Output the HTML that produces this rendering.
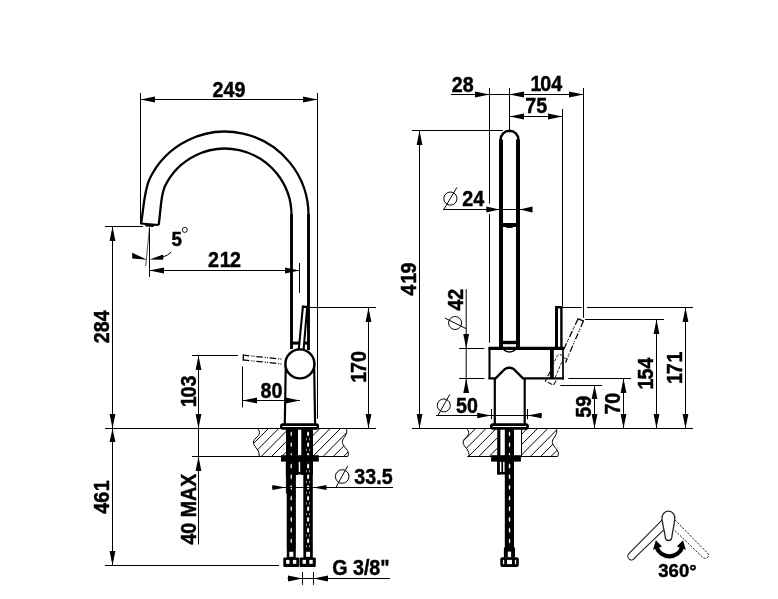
<!DOCTYPE html>
<html><head><meta charset="utf-8"><title>Technical drawing</title>
<style>html,body{margin:0;padding:0;background:#fff}svg{display:block;will-change:transform}text{font-family:"Liberation Sans",sans-serif;font-weight:bold;fill:#000;stroke:#000;stroke-width:0.45px}</style>
</head><body>
<svg width="778" height="599" viewBox="0 0 778 599">
<rect width="778" height="599" fill="#fff"/>
<line x1="140.5" y1="93" x2="140.5" y2="224.5" stroke="#000" stroke-width="1" />
<line x1="317.5" y1="93" x2="317.5" y2="418.7" stroke="#000" stroke-width="1" />
<line x1="140.5" y1="99.5" x2="317.5" y2="99.5" stroke="#000" stroke-width="1" />
<polygon points="140.50,99.50 155.00,96.60 155.00,102.40" fill="#000"/>
<polygon points="317.50,99.50 303.00,102.40 303.00,96.60" fill="#000"/>
<text transform="translate(212.6,96.7) scale(0.915,1)" font-size="21.5">249</text>
<path d="M141.10,223.50 C143.6,208.6 143.8,193.5 149.13,179.87 A83.6,83.6 0 0 1 308.5,215.2" fill="none" stroke="#000" stroke-width="2.3"/>
<path d="M158.60,225.10 C160.84,212.16 160.05,198.83 164.54,187.05 A66.6,66.6 0 0 1 291.5,215.2" fill="none" stroke="#000" stroke-width="2.3"/>
<line x1="141.10" y1="223.50" x2="158.60" y2="225.10" stroke="#000" stroke-width="2" />
<polygon points="143.2,223.6 155.4,224.7 153,227 146,226.6" fill="#000"/>
<line x1="291.5" y1="214.2" x2="291.5" y2="349" stroke="#000" stroke-width="2.9" />
<line x1="308.5" y1="214.2" x2="308.5" y2="350" stroke="#000" stroke-width="2.9" />
<line x1="105" y1="226.5" x2="143" y2="226.5" stroke="#000" stroke-width="1" />
<line x1="112.5" y1="226.5" x2="112.5" y2="565.5" stroke="#000" stroke-width="1" />
<polygon points="112.50,226.50 115.40,241.00 109.60,241.00" fill="#000"/>
<polygon points="112.50,428.50 109.60,414.00 115.40,414.00" fill="#000"/>
<polygon points="112.50,428.50 115.40,442.00 109.60,442.00" fill="#000"/>
<polygon points="112.50,565.50 109.60,551.00 115.40,551.00" fill="#000"/>
<line x1="105" y1="428.5" x2="376" y2="428.5" stroke="#000" stroke-width="1" />
<line x1="105" y1="565.5" x2="279" y2="565.5" stroke="#000" stroke-width="1" />
<text transform="translate(109.30000000000001,343.2) rotate(-90) scale(0.915,1)" font-size="21.5">284</text>
<text transform="translate(109.30000000000001,513.8) rotate(-90) scale(0.915,1)" font-size="21.5">46<tspan dx="0.8">1</tspan></text>
<line x1="149.5" y1="227.6" x2="149.5" y2="277" stroke="#000" stroke-width="1" />
<line x1="149.5" y1="227.6" x2="145.7" y2="266" stroke="#222" stroke-width="0.8" />
<polygon points="147.2,259.8 132.2,252.8 132.2,258.6" fill="#000"/>
<polygon points="149.6,259.6 163.2,254.4 163.2,259.8" fill="#000"/>
<path d="M163,257 Q168,255.5 171,252.2" fill="none" stroke="#000" stroke-width="1"/>
<text transform="translate(171.6,246.1) scale(0.915,1)" font-size="20.5">5</text>
<circle cx="184.8" cy="229.9" r="2.5" fill="none" stroke="#000" stroke-width="0.9"/>
<line x1="149.5" y1="270.5" x2="299.5" y2="270.5" stroke="#000" stroke-width="1" />
<polygon points="149.50,270.50 164.00,267.60 164.00,273.40" fill="#000"/>
<polygon points="299.50,270.50 285.00,273.40 285.00,267.60" fill="#000"/>
<line x1="299.5" y1="263" x2="299.5" y2="292.8" stroke="#000" stroke-width="1" />
<text transform="translate(208,266.59999999999997) scale(0.915,1)" font-size="21.5">2<tspan dx="0.8">1</tspan><tspan dx="-0.8">2</tspan></text>
<line x1="291.5" y1="343.1" x2="308.5" y2="343.1" stroke="#000" stroke-width="3" />
<path d="M298.7,350 L302.9,306.4 L307.2,307 L303.6,350" fill="#fff" stroke="#000" stroke-width="2.1" stroke-linejoin="miter"/>
<line x1="303" y1="307.5" x2="376" y2="307.5" stroke="#000" stroke-width="1" />
<line x1="368.5" y1="307.5" x2="368.5" y2="428.5" stroke="#000" stroke-width="1" />
<polygon points="368.50,307.50 371.40,322.00 365.60,322.00" fill="#000"/>
<polygon points="368.50,428.50 365.60,414.00 371.40,414.00" fill="#000"/>
<text transform="translate(366.09999999999997,382.8) rotate(-90) scale(0.915,1)" font-size="21.5">1<tspan dx="-1.2">7</tspan>0</text>
<path d="M285.8,363 L284.8,424" fill="none" stroke="#000" stroke-width="2.2"/>
<path d="M314.1,363 L315.1,424" fill="none" stroke="#000" stroke-width="2.2"/>
<circle cx="299.9" cy="363.9" r="14.5" fill="#fff" stroke="#000" stroke-width="2.4"/>
<path d="M242.9,355.1 L283,359.3" stroke="#000" stroke-width="1.25" fill="none" stroke-dasharray="6.5 2 1 1.2 1 1.8"/>
<path d="M242.9,359.9 L283,364.1" stroke="#000" stroke-width="1.25" fill="none" stroke-dasharray="6.5 2 1 1.2 1 1.8"/>
<path d="M243.3,354.5 L243.3,360.5" stroke="#000" stroke-width="1.4" fill="none"/>
<line x1="192" y1="355.5" x2="238" y2="355.5" stroke="#000" stroke-width="1" />
<line x1="198.5" y1="355.5" x2="198.5" y2="544.4" stroke="#000" stroke-width="1" />
<polygon points="198.50,355.50 201.40,370.00 195.60,370.00" fill="#000"/>
<polygon points="198.50,428.50 195.60,414.00 201.40,414.00" fill="#000"/>
<polygon points="198.50,456.50 201.40,471.00 195.60,471.00" fill="#000"/>
<text transform="translate(196.3,407.3) rotate(-90) scale(0.915,1)" font-size="21.5">1<tspan dx="-1.2">0</tspan>3</text>
<text transform="translate(196.3,544.6) rotate(-90) scale(0.915,1)" font-size="21.5">40 MAX</text>
<line x1="242.5" y1="366.4" x2="242.5" y2="407.4" stroke="#000" stroke-width="1" />
<line x1="242.5" y1="400.5" x2="300" y2="400.5" stroke="#000" stroke-width="1" />
<polygon points="242.50,400.50 257.00,397.60 257.00,403.40" fill="#000"/>
<polygon points="300.00,400.50 285.50,403.40 285.50,397.60" fill="#000"/>
<text transform="translate(260.5,397.5) scale(0.915,1)" font-size="21.5">80</text>
<clipPath id="c1"><path d="M257.4,428.5 C261,432 259.5,435 256,438 C251.5,442 253.5,445 257,449 C259,451.5 259.5,453.5 259,456.3 L286,456.5 L286,428.5 Z"/><path d="M345.9,428.5 C348,432 346,435 343.5,438.5 C341,442.5 343,445 346,448.5 C348.5,451.5 349,454 347.8,456.3 L313,456.5 L313,428.5 Z"/></clipPath>
<g clip-path="url(#c1)" stroke="#000" stroke-width="1">
<line x1="216.9" y1="428.5" x2="189.1" y2="456.5"/>
<line x1="227.2" y1="428.5" x2="199.4" y2="456.5"/>
<line x1="237.5" y1="428.5" x2="209.7" y2="456.5"/>
<line x1="247.8" y1="428.5" x2="220.0" y2="456.5"/>
<line x1="258.1" y1="428.5" x2="230.3" y2="456.5"/>
<line x1="268.4" y1="428.5" x2="240.6" y2="456.5"/>
<line x1="278.7" y1="428.5" x2="250.9" y2="456.5"/>
<line x1="289.0" y1="428.5" x2="261.2" y2="456.5"/>
<line x1="299.3" y1="428.5" x2="271.5" y2="456.5"/>
<line x1="309.6" y1="428.5" x2="281.8" y2="456.5"/>
<line x1="319.9" y1="428.5" x2="292.1" y2="456.5"/>
<line x1="330.2" y1="428.5" x2="302.4" y2="456.5"/>
<line x1="340.5" y1="428.5" x2="312.7" y2="456.5"/>
<line x1="350.8" y1="428.5" x2="323.0" y2="456.5"/>
<line x1="361.1" y1="428.5" x2="333.3" y2="456.5"/>
<line x1="371.4" y1="428.5" x2="343.6" y2="456.5"/>
<line x1="381.7" y1="428.5" x2="353.9" y2="456.5"/>
</g>
<path d="M257.4,428.5 C261,432 259.5,435 256,438 C251.5,442 253.5,445 257,449 C259,451.5 259.5,453.5 259,456.3" fill="none" stroke="#000" stroke-width="1"/>
<path d="M345.9,428.5 C348,432 346,435 343.5,438.5 C341,442.5 343,445 346,448.5 C348.5,451.5 349,454 347.8,456.3" fill="none" stroke="#000" stroke-width="1"/>
<line x1="192" y1="456.5" x2="347.8" y2="456.5" stroke="#000" stroke-width="1" />
<rect x="286" y="429" width="12.0" height="46" fill="#000"/>
<rect x="301.3" y="429" width="11.7" height="46" fill="#000"/>
<rect x="285.9" y="461" width="27.1" height="13.5" fill="#000"/>
<rect x="298.7" y="461.7" width="1.5" height="10.3" fill="#fff"/>
<rect x="286.7" y="474" width="9.2" height="74.5" fill="#000"/>
<rect x="303.3" y="474" width="9.5" height="74.5" fill="#000"/>
<line x1="286.4" y1="462.7" x2="286.4" y2="493.6" stroke="#000" stroke-width="1" />
<polygon points="291.2,431.2 291.84999999999997,432.7 291.84999999999997,435.1 291.2,436.6 290.55,435.1 290.55,432.7" fill="#fff"/>
<polygon points="291.2,441.9 291.84999999999997,443.4 291.84999999999997,445.8 291.2,447.3 290.55,445.8 290.55,443.4" fill="#fff"/>
<polygon points="291.2,452.6 291.84999999999997,454.1 291.84999999999997,456.5 291.2,458.0 290.55,456.5 290.55,454.1" fill="#fff"/>
<polygon points="291.2,463.3 291.84999999999997,464.8 291.84999999999997,467.2 291.2,468.7 290.55,467.2 290.55,464.8" fill="#fff"/>
<polygon points="291.2,474.0 291.84999999999997,475.5 291.84999999999997,477.9 291.2,479.4 290.55,477.9 290.55,475.5" fill="#fff"/>
<polygon points="291.2,484.7 291.84999999999997,486.2 291.84999999999997,488.6 291.2,490.1 290.55,488.6 290.55,486.2" fill="#fff"/>
<polygon points="291.2,495.4 291.84999999999997,496.9 291.84999999999997,499.3 291.2,500.8 290.55,499.3 290.55,496.9" fill="#fff"/>
<polygon points="291.2,506.1 291.84999999999997,507.6 291.84999999999997,510.0 291.2,511.5 290.55,510.0 290.55,507.6" fill="#fff"/>
<polygon points="291.2,516.8 291.84999999999997,518.3 291.84999999999997,520.7 291.2,522.2 290.55,520.7 290.55,518.3" fill="#fff"/>
<polygon points="291.2,527.5 291.84999999999997,529.0 291.84999999999997,531.4 291.2,532.9 290.55,531.4 290.55,529.0" fill="#fff"/>
<polygon points="291.2,538.2 291.84999999999997,539.7 291.84999999999997,542.1 291.2,543.6 290.55,542.1 290.55,539.7" fill="#fff"/>
<polygon points="308.1,431.2 309.1,432.7 309.1,435.1 308.1,436.6 307.1,435.1 307.1,432.7" fill="#fff"/>
<rect x="306.20000000000005" y="438.1" width="0.8" height="2.2" fill="#bbb"/>
<rect x="309.20000000000005" y="438.1" width="0.8" height="2.2" fill="#bbb"/>
<polygon points="308.1,441.9 309.1,443.4 309.1,445.8 308.1,447.3 307.1,445.8 307.1,443.4" fill="#fff"/>
<rect x="306.20000000000005" y="448.8" width="0.8" height="2.2" fill="#bbb"/>
<rect x="309.20000000000005" y="448.8" width="0.8" height="2.2" fill="#bbb"/>
<polygon points="308.1,452.6 309.1,454.1 309.1,456.5 308.1,458.0 307.1,456.5 307.1,454.1" fill="#fff"/>
<rect x="306.20000000000005" y="459.5" width="0.8" height="2.2" fill="#bbb"/>
<rect x="309.20000000000005" y="459.5" width="0.8" height="2.2" fill="#bbb"/>
<polygon points="308.1,463.3 309.1,464.8 309.1,467.2 308.1,468.7 307.1,467.2 307.1,464.8" fill="#fff"/>
<rect x="306.20000000000005" y="470.2" width="0.8" height="2.2" fill="#bbb"/>
<rect x="309.20000000000005" y="470.2" width="0.8" height="2.2" fill="#bbb"/>
<polygon points="308.1,474.0 309.1,475.5 309.1,477.9 308.1,479.4 307.1,477.9 307.1,475.5" fill="#fff"/>
<rect x="306.20000000000005" y="480.9" width="0.8" height="2.2" fill="#bbb"/>
<rect x="309.20000000000005" y="480.9" width="0.8" height="2.2" fill="#bbb"/>
<polygon points="308.1,484.7 309.1,486.2 309.1,488.6 308.1,490.1 307.1,488.6 307.1,486.2" fill="#fff"/>
<rect x="306.20000000000005" y="491.6" width="0.8" height="2.2" fill="#bbb"/>
<rect x="309.20000000000005" y="491.6" width="0.8" height="2.2" fill="#bbb"/>
<polygon points="308.1,495.4 309.1,496.9 309.1,499.3 308.1,500.8 307.1,499.3 307.1,496.9" fill="#fff"/>
<rect x="306.20000000000005" y="502.3" width="0.8" height="2.2" fill="#bbb"/>
<rect x="309.20000000000005" y="502.3" width="0.8" height="2.2" fill="#bbb"/>
<polygon points="308.1,506.1 309.1,507.6 309.1,510.0 308.1,511.5 307.1,510.0 307.1,507.6" fill="#fff"/>
<rect x="306.20000000000005" y="513.0" width="0.8" height="2.2" fill="#bbb"/>
<rect x="309.20000000000005" y="513.0" width="0.8" height="2.2" fill="#bbb"/>
<polygon points="308.1,516.8 309.1,518.3 309.1,520.7 308.1,522.2 307.1,520.7 307.1,518.3" fill="#fff"/>
<rect x="306.20000000000005" y="523.7" width="0.8" height="2.2" fill="#bbb"/>
<rect x="309.20000000000005" y="523.7" width="0.8" height="2.2" fill="#bbb"/>
<polygon points="308.1,527.5 309.1,529.0 309.1,531.4 308.1,532.9 307.1,531.4 307.1,529.0" fill="#fff"/>
<rect x="306.20000000000005" y="534.4" width="0.8" height="2.2" fill="#bbb"/>
<rect x="309.20000000000005" y="534.4" width="0.8" height="2.2" fill="#bbb"/>
<polygon points="308.1,538.2 309.1,539.7 309.1,542.1 308.1,543.6 307.1,542.1 307.1,539.7" fill="#fff"/>
<rect x="306.20000000000005" y="545.1" width="0.8" height="2.2" fill="#bbb"/>
<rect x="309.20000000000005" y="545.1" width="0.8" height="2.2" fill="#bbb"/>
<rect x="281" y="455.2" width="37.8" height="6.4" fill="#000"/>
<rect x="281.3" y="424.6" width="36.5" height="3.75" rx="1.5" fill="#fff" stroke="#000" stroke-width="2.6"/>
<rect x="286.8" y="548" width="9.0" height="10" fill="#000"/>
<rect x="289.3" y="551.8" width="4" height="5" fill="#fff"/>
<rect x="283.3" y="557.4" width="15.9" height="9.5" rx="1.2" fill="#000"/>
<rect x="286.1" y="559.9" width="3.4" height="3.9" fill="#fff"/>
<rect x="292.9" y="559.9" width="3.4" height="3.9" fill="#fff"/>
<rect x="303.4" y="548" width="9.4" height="10" fill="#000"/>
<rect x="306.1" y="551.8" width="4" height="5" fill="#fff"/>
<rect x="299.6" y="557.4" width="16.2" height="9.5" rx="1.2" fill="#000"/>
<rect x="302.6" y="559.9" width="3.4" height="3.9" fill="#fff"/>
<rect x="309.3" y="559.9" width="3.4" height="3.9" fill="#fff"/>
<line x1="272" y1="487.5" x2="393" y2="487.5" stroke="#000" stroke-width="1" />
<polygon points="285.70,487.50 272.30,490.10 272.30,484.90" fill="#000"/>
<polygon points="313.30,487.50 326.50,484.90 326.50,490.10" fill="#000"/>
<circle cx="342.2" cy="476.5" r="6.8" fill="none" stroke="#000" stroke-width="1"/>
<line x1="335.9" y1="487.4" x2="347.8" y2="465.8" stroke="#000" stroke-width="1" />
<text transform="translate(354.3,484.4) scale(0.915,1)" font-size="21.5">33.5</text>
<line x1="287.6" y1="578.5" x2="390" y2="578.5" stroke="#000" stroke-width="1" />
<polygon points="302.50,578.50 288.00,581.40 288.00,575.60" fill="#000"/>
<polygon points="313.50,578.50 328.00,575.60 328.00,581.40" fill="#000"/>
<line x1="302.5" y1="572" x2="302.5" y2="584.8" stroke="#000" stroke-width="1" />
<line x1="313.5" y1="572" x2="313.5" y2="584.8" stroke="#000" stroke-width="1" />
<text transform="translate(332.2,575.0) scale(0.915,1)" font-size="21.5">G 3/8"</text>
<line x1="451" y1="94.5" x2="583.5" y2="94.5" stroke="#000" stroke-width="1" />
<line x1="489.5" y1="88" x2="489.5" y2="203.7" stroke="#000" stroke-width="1" />
<line x1="489.5" y1="214.2" x2="489.5" y2="342.7" stroke="#000" stroke-width="1" />
<line x1="509.5" y1="88" x2="509.5" y2="132.5" stroke="#000" stroke-width="1" />
<line x1="583.5" y1="88" x2="583.5" y2="317.8" stroke="#000" stroke-width="1" />
<polygon points="489.50,94.50 475.00,97.40 475.00,91.60" fill="#000"/>
<polygon points="509.50,94.50 524.00,91.60 524.00,97.40" fill="#000"/>
<polygon points="583.50,94.50 569.00,97.40 569.00,91.60" fill="#000"/>
<text transform="translate(451.7,91.60000000000001) scale(0.915,1)" font-size="21.5">28</text>
<text transform="translate(530.5,91.0) scale(0.915,1)" font-size="21.5">1<tspan dx="-1.2">0</tspan>4</text>
<line x1="509.5" y1="116.5" x2="562.5" y2="116.5" stroke="#000" stroke-width="1" />
<polygon points="509.50,116.50 524.00,113.60 524.00,119.40" fill="#000"/>
<polygon points="562.50,116.50 548.00,119.40 548.00,113.60" fill="#000"/>
<line x1="562.5" y1="109" x2="562.5" y2="306.5" stroke="#000" stroke-width="1" />
<text transform="translate(525.2,113.4) scale(0.915,1)" font-size="21.5">75</text>
<line x1="412" y1="130.5" x2="502.8" y2="130.5" stroke="#000" stroke-width="1" />
<line x1="419.5" y1="130.5" x2="419.5" y2="428.5" stroke="#000" stroke-width="1" />
<polygon points="419.50,130.50 422.40,145.00 416.60,145.00" fill="#000"/>
<polygon points="419.50,428.50 416.60,414.00 422.40,414.00" fill="#000"/>
<text transform="translate(416.4,295.4) rotate(-90) scale(0.915,1)" font-size="21.5">4<tspan dx="0.8">1</tspan><tspan dx="-0.8">9</tspan></text>
<line x1="412" y1="428.5" x2="693" y2="428.5" stroke="#000" stroke-width="1" />
<path d="M500.6,141 L500.6,139.6 A8.9,8.9 0 0 1 518.4,139.6 L518.4,141" fill="none" stroke="#000" stroke-width="2.5"/>
<line x1="501" y1="139.5" x2="501" y2="350" stroke="#000" stroke-width="4" />
<line x1="518" y1="139.5" x2="518" y2="350" stroke="#000" stroke-width="4" />
<line x1="501" y1="225" x2="518" y2="225" stroke="#000" stroke-width="4" />
<line x1="506.2" y1="227.2" x2="512.7" y2="227.2" stroke="#000" stroke-width="1.4" />
<line x1="501" y1="342.5" x2="518" y2="342.5" stroke="#000" stroke-width="3.4" />
<path d="M502.6,349 Q509.5,355 516.4,349" fill="none" stroke="#000" stroke-width="1.5"/>
<circle cx="450.4" cy="198.6" r="6.6" fill="none" stroke="#000" stroke-width="1"/>
<line x1="443.9" y1="209.3" x2="456.9" y2="187.4" stroke="#000" stroke-width="1" />
<text transform="translate(462.2,205.6) scale(0.915,1)" font-size="21.5">24</text>
<line x1="443.2" y1="209.5" x2="531.6" y2="209.5" stroke="#000" stroke-width="1" />
<polygon points="499.30,209.50 486.30,212.40 486.30,206.60" fill="#000"/>
<polygon points="519.80,209.50 532.50,206.60 532.50,212.40" fill="#000"/>
<text transform="translate(462.7,310.6) rotate(-90) scale(0.915,1)" font-size="21.5">42</text>
<circle cx="455.1" cy="323" r="6.5" fill="none" stroke="#000" stroke-width="1"/>
<line x1="444.8" y1="318" x2="466.2" y2="328.7" stroke="#000" stroke-width="1" />
<line x1="466.2" y1="289.2" x2="466.2" y2="392.4" stroke="#000" stroke-width="1" />
<polygon points="466.20,348.50 463.30,334.00 469.10,334.00" fill="#000"/>
<polygon points="466.20,378.50 469.10,393.00 463.30,393.00" fill="#000"/>
<line x1="459.2" y1="348.5" x2="484.3" y2="348.5" stroke="#000" stroke-width="1" />
<line x1="459.2" y1="378.5" x2="484.3" y2="378.5" stroke="#000" stroke-width="1" />
<path d="M488.4,348.4 L564,348.4" stroke="#000" stroke-width="3.3" fill="none"/>
<path d="M489.5,348.4 L489.5,378.4" stroke="#000" stroke-width="2.1" fill="none"/>
<path d="M488.4,378.4 L495.6,378.4 L505,369 Q509.3,366.4 513.6,369 L523,378.4 L563.9,378.4" stroke="#000" stroke-width="2.4" fill="none" stroke-linejoin="miter"/>
<line x1="551.9" y1="348.4" x2="551.9" y2="378.4" stroke="#000" stroke-width="3.8" />
<line x1="563" y1="348.4" x2="563" y2="379.5" stroke="#000" stroke-width="1.7" />
<path d="M556.5,348.4 L556.5,307.2" fill="none" stroke="#000" stroke-width="3"/>
<path d="M555,307.2 L562.5,307.2" fill="none" stroke="#000" stroke-width="2.4"/>
<path d="M561.4,348.4 L561.4,307.2" fill="none" stroke="#000" stroke-width="2.4"/>
<line x1="494.8" y1="378.4" x2="494.8" y2="424" stroke="#000" stroke-width="2.2" />
<line x1="524.7" y1="378.4" x2="524.7" y2="424" stroke="#000" stroke-width="2.2" />
<rect x="491.3" y="424.6" width="36.3" height="3.75" rx="1.5" fill="#fff" stroke="#000" stroke-width="2.6"/>
<path d="M578,318.9 L563.8,349.2" stroke="#000" stroke-width="1.25" fill="none" stroke-dasharray="6.5 2 1 1.2 1 1.8"/>
<path d="M583.4,321 L565.5,362.5" stroke="#000" stroke-width="1.25" fill="none" stroke-dasharray="6.5 2 1 1.2 1 1.8"/>
<path d="M577.5,318.7 L583.9,321.2" stroke="#000" stroke-width="1.3" fill="none"/>
<path d="M562.5,356 Q559,352.5 556.5,357 L548.5,376" stroke="#222" stroke-width="1" fill="none" stroke-dasharray="3 1.5"/>
<path d="M563.4,357.5 L566.7,358.8" stroke="#222" stroke-width="1" fill="none"/>
<path d="M563.5,358 L554.5,379" stroke="#222" stroke-width="1" fill="none" stroke-dasharray="3 1.5"/>
<path d="M550,371.7 L545.4,380.9 L553.4,385.1 L557.1,379.2" stroke="#111" stroke-width="1.1" fill="none" stroke-dasharray="5 1.5"/>
<circle cx="443.8" cy="405.4" r="6.5" fill="none" stroke="#000" stroke-width="1"/>
<line x1="438.1" y1="415.1" x2="449.9" y2="394.3" stroke="#000" stroke-width="1" />
<text transform="translate(456,412.7) scale(0.915,1)" font-size="21.5">50</text>
<line x1="436" y1="415.5" x2="541.9" y2="415.5" stroke="#000" stroke-width="1" />
<polygon points="491.20,415.50 477.20,418.20 477.20,412.80" fill="#000"/>
<polygon points="527.60,415.50 541.60,412.80 541.60,418.20" fill="#000"/>
<line x1="491.5" y1="409" x2="491.5" y2="419.2" stroke="#000" stroke-width="1" />
<line x1="527.5" y1="409" x2="527.5" y2="419.2" stroke="#000" stroke-width="1" />
<line x1="562.5" y1="307.5" x2="581.7" y2="307.5" stroke="#000" stroke-width="1" />
<line x1="587" y1="307.5" x2="693" y2="307.5" stroke="#000" stroke-width="1" />
<line x1="685.5" y1="307.5" x2="685.5" y2="428.5" stroke="#000" stroke-width="1" />
<polygon points="685.50,307.50 688.40,322.00 682.60,322.00" fill="#000"/>
<polygon points="685.50,428.50 682.60,414.00 688.40,414.00" fill="#000"/>
<text transform="translate(681.8,384) rotate(-90) scale(0.915,1)" font-size="21.5">1<tspan dx="-1.2">7</tspan><tspan dx="0.8">1</tspan></text>
<line x1="585" y1="319.5" x2="664" y2="319.5" stroke="#000" stroke-width="1" />
<line x1="656.5" y1="319.5" x2="656.5" y2="428.5" stroke="#000" stroke-width="1" />
<polygon points="656.50,319.50 659.40,334.00 653.60,334.00" fill="#000"/>
<polygon points="656.50,428.50 653.60,414.00 659.40,414.00" fill="#000"/>
<text transform="translate(653.1999999999999,389.4) rotate(-90) scale(0.915,1)" font-size="21.5">1<tspan dx="-1.2">5</tspan>4</text>
<line x1="568.3" y1="378.5" x2="631" y2="378.5" stroke="#000" stroke-width="1" />
<line x1="623.5" y1="378.5" x2="623.5" y2="428.5" stroke="#000" stroke-width="1" />
<polygon points="623.50,378.50 626.40,393.00 620.60,393.00" fill="#000"/>
<polygon points="623.50,428.50 620.60,414.00 626.40,414.00" fill="#000"/>
<text transform="translate(620.4,414.6) rotate(-90) scale(0.915,1)" font-size="21.5">70</text>
<line x1="560.3" y1="385.5" x2="602" y2="385.5" stroke="#000" stroke-width="1" />
<line x1="594.5" y1="385.5" x2="594.5" y2="428.5" stroke="#000" stroke-width="1" />
<polygon points="594.50,385.50 597.40,399.00 591.60,399.00" fill="#000"/>
<polygon points="594.50,428.50 591.60,414.00 597.40,414.00" fill="#000"/>
<text transform="translate(591.1999999999999,417.7) rotate(-90) scale(0.915,1)" font-size="21.5">59</text>
<clipPath id="c2"><path d="M466.6,428.5 C470.2,432 468.7,435 465.5,438 C461.5,441.5 463,444.5 466.5,448.5 C468.6,451.5 469.3,453.5 468.9,456.3 L497.2,456.5 L497.2,428.5 Z"/><path d="M555.9,428.5 C558,432 556,435 553.5,438.5 C551,442.5 553,445 556,448.5 C558.5,451.5 559,454 557.8,456.3 L521.6,456.5 L521.6,428.5 Z"/></clipPath>
<g clip-path="url(#c2)" stroke="#000" stroke-width="1">
<line x1="413.9" y1="428.5" x2="386.1" y2="456.5"/>
<line x1="424.2" y1="428.5" x2="396.4" y2="456.5"/>
<line x1="434.5" y1="428.5" x2="406.7" y2="456.5"/>
<line x1="444.8" y1="428.5" x2="417.0" y2="456.5"/>
<line x1="455.1" y1="428.5" x2="427.3" y2="456.5"/>
<line x1="465.4" y1="428.5" x2="437.6" y2="456.5"/>
<line x1="475.7" y1="428.5" x2="447.9" y2="456.5"/>
<line x1="486.0" y1="428.5" x2="458.2" y2="456.5"/>
<line x1="496.3" y1="428.5" x2="468.5" y2="456.5"/>
<line x1="506.6" y1="428.5" x2="478.8" y2="456.5"/>
<line x1="516.9" y1="428.5" x2="489.1" y2="456.5"/>
<line x1="527.2" y1="428.5" x2="499.4" y2="456.5"/>
<line x1="537.5" y1="428.5" x2="509.7" y2="456.5"/>
<line x1="547.8" y1="428.5" x2="520.0" y2="456.5"/>
<line x1="558.1" y1="428.5" x2="530.3" y2="456.5"/>
<line x1="568.4" y1="428.5" x2="540.6" y2="456.5"/>
<line x1="578.7" y1="428.5" x2="550.9" y2="456.5"/>
<line x1="589.0" y1="428.5" x2="561.2" y2="456.5"/>
</g>
<path d="M466.6,428.5 C470.2,432 468.7,435 465.5,438 C461.5,441.5 463,444.5 466.5,448.5 C468.6,451.5 469.3,453.5 468.9,456.3" fill="none" stroke="#000" stroke-width="1"/>
<path d="M555.9,428.5 C558,432 556,435 553.5,438.5 C551,442.5 553,445 556,448.5 C558.5,451.5 559,454 557.8,456.3" fill="none" stroke="#000" stroke-width="1"/>
<line x1="467.4" y1="456.5" x2="557.8" y2="456.5" stroke="#000" stroke-width="1" />
<line x1="521.5" y1="428.5" x2="521.5" y2="456.5" stroke="#000" stroke-width="1" />
<rect x="497.2" y="429" width="3.2" height="45.5" fill="#000"/>
<rect x="497.2" y="461" width="8.3" height="13.5" fill="#000"/>
<rect x="499.9" y="461.7" width="1.5" height="10.3" fill="#fff"/>
<rect x="503.1" y="461.7" width="1.6" height="10.3" fill="#fff"/>
<rect x="504.8" y="429" width="9.2" height="119" fill="#000"/>
<polygon points="509.5,431.2 510.2,432.7 510.2,435.1 509.5,436.6 508.8,435.1 508.8,432.7" fill="#fff"/>
<polygon points="509.5,441.9 510.2,443.4 510.2,445.8 509.5,447.3 508.8,445.8 508.8,443.4" fill="#fff"/>
<polygon points="509.5,452.6 510.2,454.1 510.2,456.5 509.5,458.0 508.8,456.5 508.8,454.1" fill="#fff"/>
<polygon points="509.5,463.3 510.2,464.8 510.2,467.2 509.5,468.7 508.8,467.2 508.8,464.8" fill="#fff"/>
<polygon points="509.5,474.0 510.2,475.5 510.2,477.9 509.5,479.4 508.8,477.9 508.8,475.5" fill="#fff"/>
<polygon points="509.5,484.7 510.2,486.2 510.2,488.6 509.5,490.1 508.8,488.6 508.8,486.2" fill="#fff"/>
<polygon points="509.5,495.4 510.2,496.9 510.2,499.3 509.5,500.8 508.8,499.3 508.8,496.9" fill="#fff"/>
<polygon points="509.5,506.1 510.2,507.6 510.2,510.0 509.5,511.5 508.8,510.0 508.8,507.6" fill="#fff"/>
<polygon points="509.5,516.8 510.2,518.3 510.2,520.7 509.5,522.2 508.8,520.7 508.8,518.3" fill="#fff"/>
<polygon points="509.5,527.5 510.2,529.0 510.2,531.4 509.5,532.9 508.8,531.4 508.8,529.0" fill="#fff"/>
<polygon points="509.5,538.2 510.2,539.7 510.2,542.1 509.5,543.6 508.8,542.1 508.8,539.7" fill="#fff"/>
<rect x="491.1" y="455.2" width="29.8" height="6.4" fill="#000"/>
<rect x="503.9" y="547.5" width="11.1" height="10" fill="#000"/>
<rect x="507.8" y="551.6" width="3.3" height="5.4" fill="#fff"/>
<rect x="500.3" y="557.3" width="18.5" height="9.8" rx="2" fill="#000"/>
<rect x="502.9" y="559.9" width="1.3" height="4.2" fill="#fff"/>
<rect x="507" y="559.9" width="5" height="4.2" fill="#fff"/>
<rect x="514.9" y="559.9" width="1.3" height="4.2" fill="#fff"/>
<path d="M662.4,519.7 L628.2,554.4 A3.6,3.6 0 0 0 634.7,557.9 L664,529.7" fill="none" stroke="#222" stroke-width="1.1"/>
<path d="M674.8,519.7 L708.7,554.4 A3.6,3.6 0 0 1 703.3,557.9 L674,529.7" fill="none" stroke="#222" stroke-width="1" stroke-dasharray="2.2 1.4"/>
<path d="M668.4,511.2 C673,511.2 675,515 674.8,518.5 C674.5,524 672.5,531 671.8,537.5 C671.5,541.5 665.6,541.5 665.3,537.5 C664.6,531 662.3,524 662,518.5 C661.8,515 664,511.2 668.4,511.2 Z" fill="#fff" stroke="#222" stroke-width="1.3"/>
<path d="M656.6,547.3 A13.6,13.6 0 0 0 682.2,547.3" fill="none" stroke="#000" stroke-width="4.3"/>
<polygon points="655.8,540.2 662,546.4 653,549.8" fill="#000"/>
<polygon points="683,540.2 676.8,546.4 685.8,549.8" fill="#000"/>
<text transform="translate(658.3,576.6) scale(1.0,1)" font-size="18.5">360°</text>
</svg>
</body></html>
